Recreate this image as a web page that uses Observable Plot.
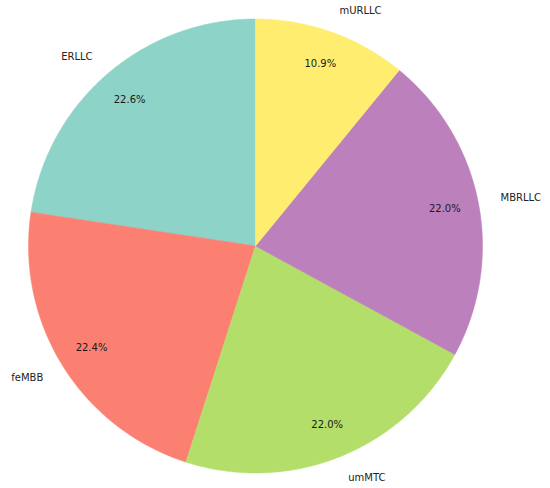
<!DOCTYPE html>
<html>
<head>
<meta charset="utf-8">
<script src="https://cdn.jsdelivr.net/npm/d3@7"></script>
<script src="https://cdn.jsdelivr.net/npm/@observablehq/plot@0.6"></script>
<style>
  html, body { margin: 0; padding: 0; background: #fff; }
  #chart svg { display: block; }
</style>
</head>
<body>
<div id="chart"></div>
<script>
// Data (matplotlib order: counter-clockwise from 90°)
const labels = ["ERLLC", "feMBB", "umMTC", "MBRLLC", "mURLLC"];
const values = [22.6, 22.4, 22.0, 22.0, 10.9];
const colors = ["#8dd3c7", "#fb8072", "#b3de69", "#bc80bd", "#ffed6f"];

const W = 550, H = 488;
const cx = 255, cy = 245.5, R = 227;
const startAngle = 90, pctDistance = 0.85, labelDistance = 1.1;

const total = d3.sum(values);
let cum = 0;
const slices = labels.map((label, i) => {
  const t1 = startAngle + 360 * cum / total;
  cum += values[i];
  const t2 = startAngle + 360 * cum / total;
  const mid = (t1 + t2) / 2 * Math.PI / 180;
  return {
    label, value: values[i], t1, t2,
    pct: (100 * values[i] / total).toFixed(1) + "%",
    px: cx + pctDistance * R * Math.cos(mid),
    py: cy - pctDistance * R * Math.sin(mid),
    lx: cx + labelDistance * R * Math.cos(mid),
    ly: cy - labelDistance * R * Math.sin(mid),
    side: Math.cos(mid) >= 0 ? "right" : "left"
  };
});

// polygon outline of each wedge, derived from the values
const wedgePts = [];
for (const s of slices) {
  wedgePts.push({label: s.label, x: cx, y: cy});
  const n = Math.max(2, Math.ceil((s.t2 - s.t1) / 0.5));
  for (let k = 0; k <= n; k++) {
    const a = (s.t1 + (s.t2 - s.t1) * k / n) * Math.PI / 180;
    wedgePts.push({label: s.label, x: cx + R * Math.cos(a), y: cy - R * Math.sin(a)});
  }
  wedgePts.push({label: s.label, x: cx, y: cy});
}

const chart = Plot.plot({
  width: W,
  height: H,
  margin: 0,
  x: {domain: [0, W], range: [0, W], axis: null},
  y: {domain: [0, H], range: [0, H], axis: null},
  color: {domain: labels, range: colors},
  style: {fontFamily: "DejaVu Sans, sans-serif", fontSize: "10px", background: "#fff"},
  marks: [
    Plot.line(wedgePts, {x: "x", y: "y", z: "label", fill: "label", stroke: "label", strokeWidth: 0.5, curve: "linear-closed"}),
    Plot.text(slices, {x: "px", y: "py", text: "pct", fill: "#1a1a1a", fontSize: 10}),
    Plot.text(slices, {filter: d => d.side === "left", x: "lx", y: "ly", text: "label", textAnchor: "end", fill: "#222", fontSize: 10}),
    Plot.text(slices, {filter: d => d.side === "right", x: "lx", y: "ly", text: "label", textAnchor: "start", fill: "#222", fontSize: 10})
  ]
});
document.getElementById("chart").appendChild(chart);
</script>
</body>
</html>
